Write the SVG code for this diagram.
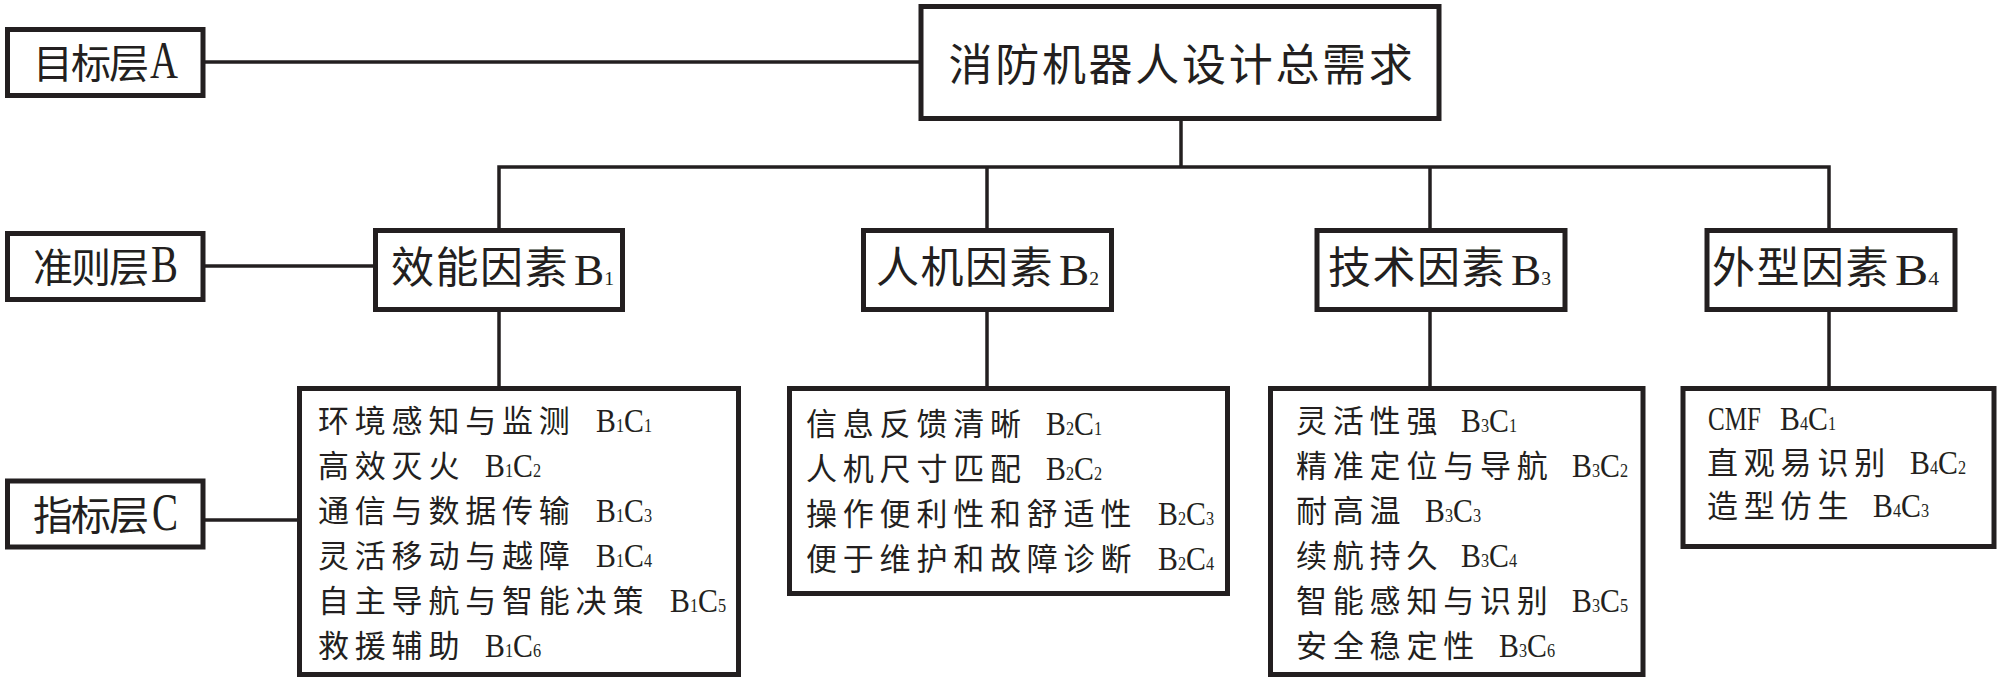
<svg xmlns="http://www.w3.org/2000/svg" width="2000" height="681" viewBox="0 0 2000 681">
<style>
.box{fill:#fff;stroke:#231f20;stroke-width:5}
.conn{fill:none;stroke:#231f20;stroke-width:3.5}
.cjk{font-family:"Noto Sans CJK SC","Noto Sans CJK TC",sans-serif;fill:#231f20}
.lat{font-family:"Liberation Serif","Times New Roman",serif;fill:#231f20;letter-spacing:0}
.lbl{font-size:40px;letter-spacing:-2px}
.blab{font-size:43px;letter-spacing:1.5px}
.item{font-size:31px;letter-spacing:5.8px}
.code{font-size:33px}
.sub{font-size:18px}
.bsub{font-size:19px}
</style>
<rect width="2000" height="681" fill="#fff"/>
<g id="connectors">
<path class="conn" d="M205 62H919"/>
<path class="conn" d="M1181 121V167"/>
<path class="conn" d="M499 229V167H1829V229"/>
<path class="conn" d="M987 167V229"/>
<path class="conn" d="M1430 167V229"/>
<path class="conn" d="M205 266H373"/>
<path class="conn" d="M205 520H297"/>
<path class="conn" d="M499 312V386"/>
<path class="conn" d="M987 312V386"/>
<path class="conn" d="M1430 312V386"/>
<path class="conn" d="M1829 312V386"/>
</g>
<g id="layer-A">
<rect class="box" x="7.5" y="29.5" width="195.5" height="66"/>
<text class="cjk lbl" y="77.5"><tspan x="33">目标层</tspan><tspan class="lat" x="150" y="78" font-size="52" textLength="28" lengthAdjust="spacingAndGlyphs">A</tspan></text>
</g>
<g id="layer-B">
<rect class="box" x="7.5" y="233.5" width="195.5" height="66"/>
<text class="cjk lbl" y="281.5"><tspan x="33">准则层</tspan><tspan class="lat" x="151" y="282" font-size="52" textLength="27" lengthAdjust="spacingAndGlyphs">B</tspan></text>
</g>
<g id="layer-C">
<rect class="box" x="7.5" y="481" width="195.5" height="66"/>
<text class="cjk lbl" y="529.5"><tspan x="33">指标层</tspan><tspan class="lat" x="152" y="530" font-size="52" textLength="26" lengthAdjust="spacingAndGlyphs">C</tspan></text>
</g>
<g id="goal">
<rect class="box" x="921" y="6.5" width="518" height="112"/>
<text class="cjk" x="1182" y="81" font-size="44" letter-spacing="2.7" text-anchor="middle">消防机器人设计总需求</text>
</g>
<g id="B1">
<rect class="box" x="375.5" y="230.5" width="247" height="79"/>
<text class="cjk blab" y="283"><tspan x="391">效能因素</tspan><tspan class="lat" x="574" y="285" font-size="44" textLength="40" lengthAdjust="spacingAndGlyphs">B<tspan class="bsub">1</tspan></tspan></text>
</g>
<g id="B2">
<rect class="box" x="863.5" y="230.5" width="248" height="79"/>
<text class="cjk blab" y="283"><tspan x="876">人机因素</tspan><tspan class="lat" x="1059" y="285" font-size="44" textLength="40" lengthAdjust="spacingAndGlyphs">B<tspan class="bsub">2</tspan></tspan></text>
</g>
<g id="B3">
<rect class="box" x="1317" y="230.5" width="248" height="79"/>
<text class="cjk blab" y="283"><tspan x="1328">技术因素</tspan><tspan class="lat" x="1511" y="285" font-size="44" textLength="40" lengthAdjust="spacingAndGlyphs">B<tspan class="bsub">3</tspan></tspan></text>
</g>
<g id="B4">
<rect class="box" x="1707" y="230.5" width="248" height="79"/>
<text class="cjk blab" y="283"><tspan x="1712">外型因素</tspan><tspan class="lat" x="1895" y="285" font-size="44" textLength="44" lengthAdjust="spacingAndGlyphs">B<tspan class="bsub">4</tspan></tspan></text>
</g>
<g id="C1">
<rect class="box" x="299.5" y="388.5" width="439" height="286"/>
<text class="cjk item" y="432"><tspan x="318">环境感知与监测</tspan><tspan class="lat code" x="596" textLength="56" lengthAdjust="spacingAndGlyphs">B<tspan class="sub">1</tspan>C<tspan class="sub">1</tspan></tspan></text>
<text class="cjk item" y="477"><tspan x="318">高效灭火</tspan><tspan class="lat code" x="485" textLength="56" lengthAdjust="spacingAndGlyphs">B<tspan class="sub">1</tspan>C<tspan class="sub">2</tspan></tspan></text>
<text class="cjk item" y="522"><tspan x="318">通信与数据传输</tspan><tspan class="lat code" x="596" textLength="56" lengthAdjust="spacingAndGlyphs">B<tspan class="sub">1</tspan>C<tspan class="sub">3</tspan></tspan></text>
<text class="cjk item" y="567"><tspan x="318">灵活移动与越障</tspan><tspan class="lat code" x="596" textLength="56" lengthAdjust="spacingAndGlyphs">B<tspan class="sub">1</tspan>C<tspan class="sub">4</tspan></tspan></text>
<text class="cjk item" y="612"><tspan x="318">自主导航与智能决策</tspan><tspan class="lat code" x="670" textLength="56" lengthAdjust="spacingAndGlyphs">B<tspan class="sub">1</tspan>C<tspan class="sub">5</tspan></tspan></text>
<text class="cjk item" y="657"><tspan x="318">救援辅助</tspan><tspan class="lat code" x="485" textLength="56" lengthAdjust="spacingAndGlyphs">B<tspan class="sub">1</tspan>C<tspan class="sub">6</tspan></tspan></text>
</g>
<g id="C2">
<rect class="box" x="789.5" y="388.5" width="438" height="205"/>
<text class="cjk item" y="435"><tspan x="806">信息反馈清晰</tspan><tspan class="lat code" x="1046" textLength="56" lengthAdjust="spacingAndGlyphs">B<tspan class="sub">2</tspan>C<tspan class="sub">1</tspan></tspan></text>
<text class="cjk item" y="480"><tspan x="806">人机尺寸匹配</tspan><tspan class="lat code" x="1046" textLength="56" lengthAdjust="spacingAndGlyphs">B<tspan class="sub">2</tspan>C<tspan class="sub">2</tspan></tspan></text>
<text class="cjk item" y="525"><tspan x="806">操作便利性和舒适性</tspan><tspan class="lat code" x="1158" textLength="56" lengthAdjust="spacingAndGlyphs">B<tspan class="sub">2</tspan>C<tspan class="sub">3</tspan></tspan></text>
<text class="cjk item" y="570"><tspan x="806">便于维护和故障诊断</tspan><tspan class="lat code" x="1158" textLength="56" lengthAdjust="spacingAndGlyphs">B<tspan class="sub">2</tspan>C<tspan class="sub">4</tspan></tspan></text>
</g>
<g id="C3">
<rect class="box" x="1270.5" y="388.5" width="372.5" height="286"/>
<text class="cjk item" y="432"><tspan x="1296">灵活性强</tspan><tspan class="lat code" x="1461" textLength="56" lengthAdjust="spacingAndGlyphs">B<tspan class="sub">3</tspan>C<tspan class="sub">1</tspan></tspan></text>
<text class="cjk item" y="477"><tspan x="1296">精准定位与导航</tspan><tspan class="lat code" x="1572" textLength="56" lengthAdjust="spacingAndGlyphs">B<tspan class="sub">3</tspan>C<tspan class="sub">2</tspan></tspan></text>
<text class="cjk item" y="522"><tspan x="1296">耐高温</tspan><tspan class="lat code" x="1425" textLength="56" lengthAdjust="spacingAndGlyphs">B<tspan class="sub">3</tspan>C<tspan class="sub">3</tspan></tspan></text>
<text class="cjk item" y="567"><tspan x="1296">续航持久</tspan><tspan class="lat code" x="1461" textLength="56" lengthAdjust="spacingAndGlyphs">B<tspan class="sub">3</tspan>C<tspan class="sub">4</tspan></tspan></text>
<text class="cjk item" y="612"><tspan x="1296">智能感知与识别</tspan><tspan class="lat code" x="1572" textLength="56" lengthAdjust="spacingAndGlyphs">B<tspan class="sub">3</tspan>C<tspan class="sub">5</tspan></tspan></text>
<text class="cjk item" y="657"><tspan x="1296">安全稳定性</tspan><tspan class="lat code" x="1499" textLength="56" lengthAdjust="spacingAndGlyphs">B<tspan class="sub">3</tspan>C<tspan class="sub">6</tspan></tspan></text>
</g>
<g id="C4">
<rect class="box" x="1683" y="388.5" width="311" height="158"/>
<text class="lat code" y="430"><tspan x="1708" textLength="53" lengthAdjust="spacingAndGlyphs">CMF</tspan><tspan x="1780" textLength="56" lengthAdjust="spacingAndGlyphs">B<tspan class="sub">4</tspan>C<tspan class="sub">1</tspan></tspan></text>
<text class="cjk item" y="474"><tspan x="1707">直观易识别</tspan><tspan class="lat code" x="1910" textLength="56" lengthAdjust="spacingAndGlyphs">B<tspan class="sub">4</tspan>C<tspan class="sub">2</tspan></tspan></text>
<text class="cjk item" y="517"><tspan x="1707">造型仿生</tspan><tspan class="lat code" x="1873" textLength="56" lengthAdjust="spacingAndGlyphs">B<tspan class="sub">4</tspan>C<tspan class="sub">3</tspan></tspan></text>
</g>
</svg>
